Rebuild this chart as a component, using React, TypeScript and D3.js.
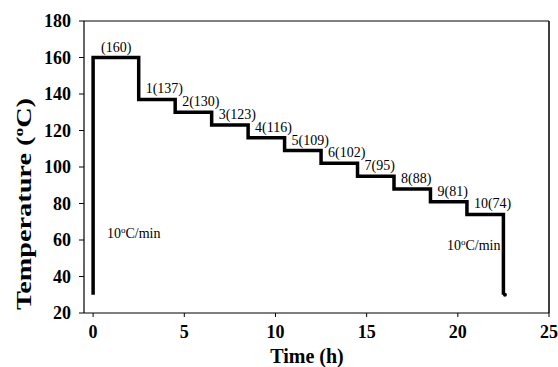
import React from "react"
import * as d3 from "d3"

const stepStarts = [0, 2.5, 4.5, 6.5, 8.5, 10.5, 12.5, 14.5, 16.5, 18.5, 20.5]
const stepEnds = [2.5, 4.5, 6.5, 8.5, 10.5, 12.5, 14.5, 16.5, 18.5, 20.5, 22.5]
const stepTemps = [160, 137, 130, 123, 116, 109, 102, 95, 88, 81, 74]
const stepLabels = ["(160)", "1(137)", "2(130)", "3(123)", "4(116)", "5(109)", "6(102)", "7(95)", "8(88)", "9(81)", "10(74)"]
const startTemp = 30
const endTemp = 30
const xTicks = [0, 5, 10, 15, 20, 25]
const yTicks = [20, 40, 60, 80, 100, 120, 140, 160, 180]

const W = 558
const H = 367
const LEFT = 84
const RIGHT = 549
const TOP = 21
const BOTTOM = 313

const FONT = "'Liberation Serif', 'Times New Roman', serif"

export default function App() {
  const x = d3.scaleLinear().domain([-0.5, 25]).range([LEFT, RIGHT])
  const y = d3.scaleLinear().domain([20, 180]).range([BOTTOM, TOP])

  const pts: [number, number][] = [[stepStarts[0], startTemp]]
  stepTemps.forEach((t, i) => {
    pts.push([stepStarts[i], t])
    pts.push([stepEnds[i], t])
  })
  const last = stepEnds[stepEnds.length - 1]
  pts.push([last, endTemp])

  const line = d3
    .line<[number, number]>()
    .x((d) => x(d[0]))
    .y((d) => y(d[1]))

  return (
    <svg
      width={W}
      height={H}
      style={{ position: "absolute", left: 0, top: 0, background: "#fff" }}
      fontFamily={FONT}
    >
      {/* plot border */}
      <line x1={LEFT} x2={RIGHT} y1={TOP} y2={TOP} stroke="#000" strokeWidth={1} />
      <line x1={RIGHT} x2={RIGHT} y1={TOP} y2={BOTTOM} stroke="#000" strokeWidth={1.5} />

      {/* y axis */}
      <line x1={LEFT} x2={LEFT} y1={TOP} y2={BOTTOM} stroke="#000" strokeWidth={1.2} />
      {yTicks.map((t) => (
        <g key={t}>
          <line x1={LEFT - 5} x2={LEFT} y1={y(t)} y2={y(t)} stroke="#000" strokeWidth={1} />
          <text
            x={LEFT - 13}
            y={y(t)}
            dy="0.35em"
            textAnchor="end"
            fontSize={18}
            fontWeight="bold"
          >
            {t}
          </text>
        </g>
      ))}

      {/* x axis */}
      <line x1={LEFT} x2={RIGHT} y1={BOTTOM} y2={BOTTOM} stroke="#000" strokeWidth={1.2} />
      {xTicks.map((t) => (
        <g key={t}>
          <line x1={x(t)} x2={x(t)} y1={BOTTOM} y2={BOTTOM + 4} stroke="#000" strokeWidth={1} />
          <text x={x(t)} y={BOTTOM + 25} textAnchor="middle" fontSize={18} fontWeight="bold">
            {t}
          </text>
        </g>
      ))}

      {/* axis titles */}
      <text x={307} y={363} textAnchor="middle" fontSize={20} fontWeight="bold">
        Time (h)
      </text>
      <text
        transform="translate(31,204) rotate(-90)"
        textAnchor="middle"
        fontSize={21}
        fontWeight="bold"
        textLength={212}
        lengthAdjust="spacingAndGlyphs"
      >
        Temperature (
        <tspan fontSize={13} dy={-8}>o</tspan>
        <tspan dy={8}>C)</tspan>
      </text>

      {/* profile */}
      <path d={line(pts) ?? ""} fill="none" stroke="#000" strokeWidth={3.5} strokeLinejoin="miter" />
      <circle cx={x(last) + 1.5} cy={y(endTemp)} r={2} fill="#000" />

      {/* step labels */}
      {stepLabels.map((lab, i) => (
        <text
          key={lab}
          x={x(stepStarts[i]) + (i === 0 ? 8 : 7)}
          y={y(stepTemps[i]) - 6}
          fontSize={14}
        >
          {lab}
        </text>
      ))}

      {/* ramp labels */}
      <text x={107} y={238} fontSize={14}>
        10<tspan fontSize={9} dy={-5}>o</tspan>
        <tspan dy={5}>C/min</tspan>
      </text>
      <text x={447} y={250} fontSize={14}>
        10<tspan fontSize={9} dy={-5}>o</tspan>
        <tspan dy={5}>C/min</tspan>
      </text>
    </svg>
  )
}
